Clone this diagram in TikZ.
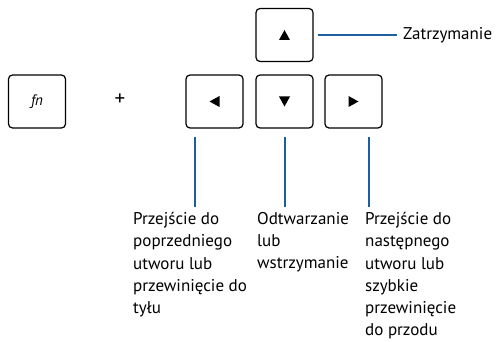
\documentclass[tikz,border=0pt]{standalone}
\usepackage{fontspec}
\setmainfont{PT Sans}
\usetikzlibrary{calc}
\definecolor{lineblue}{RGB}{30,95,160}
\begin{document}
\begin{tikzpicture}[x=1pt,y=-1pt,
  keybox/.style={draw=black,line width=1.2pt,rounded corners=4pt,minimum width=57pt,minimum height=53pt,inner sep=0pt},
  tri/.style={fill=black,draw=none},
  callout/.style={draw=lineblue,line width=1.3pt},
  lbl/.style={font=\fontsize{17}{22.3}\selectfont,align=left,anchor=north west,inner sep=0pt}]
\useasboundingbox (0,0) rectangle (498,342);
\node[keybox,font=\fontsize{15}{17}\selectfont\itshape] (fn) at (37,101.5) {fn};
\node[font=\fontsize{21}{23}\selectfont] (plus) at (120,100) {+};
\node[keybox] (left) at (214.5,101.5) {};
\node[keybox] (up) at (284.5,35) {};
\node[keybox] (down) at (284.5,101.5) {};
\node[keybox] (right) at (353.5,101.5) {};
\fill[tri] ($(left)+(-5,0)$) -- ++(10,-5.5) -- ++(0,11) -- cycle;
\fill[tri] ($(up)+(0,-5)$) -- ++(5.5,10) -- ++(-11,0) -- cycle;
\fill[tri] ($(down)+(0,5)$) -- ++(5.5,-10) -- ++(-11,0) -- cycle;
\fill[tri] ($(right)+(5,0)$) -- ++(-10,-5.5) -- ++(0,11) -- cycle;
\node[lbl,anchor=west] (stop) at (403,35) {Zatrzymanie};
\coordinate (stopa) at ($(up.east)+(4,0)$);
\coordinate (stopb) at (397,35);
\draw[callout] (stopa) -- (stopb);
\node[lbl] (prev) at (133,212) {Przejście do\\poprzedniego\\utworu lub\\przewinięcie do\\tyłu};
\node[lbl] (play) at (257,212) {Odtwarzanie\\lub\\wstrzymanie};
\node[lbl] (next) at (365,212) {Przejście do\\następnego\\utworu lub\\szybkie\\przewinięcie\\do przodu};
\coordinate (la) at (195,137); \coordinate (lb) at (195,207);
\coordinate (ma) at (285,137); \coordinate (mb) at (285,207);
\coordinate (ra) at (369,137); \coordinate (rb) at (369,207);
\draw[callout] (la) -- (lb);
\draw[callout] (ma) -- (mb);
\draw[callout] (ra) -- (rb);
\end{tikzpicture}
\end{document}
